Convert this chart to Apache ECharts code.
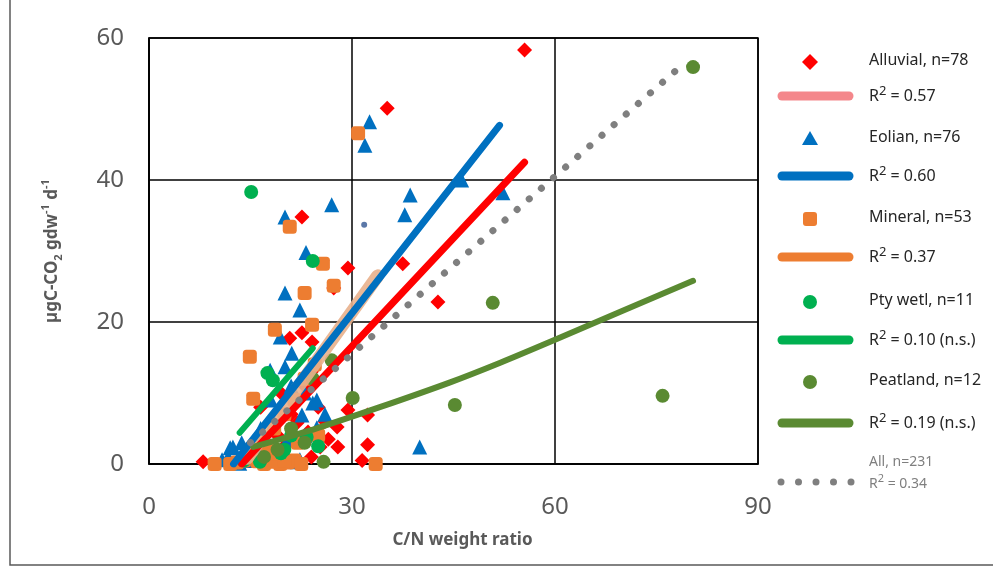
<!DOCTYPE html>
<html>
<head>
<meta charset="utf-8">
<script src="https://cdn.jsdelivr.net/npm/echarts@6/dist/echarts.min.js"></script>
<style>
  html, body { margin: 0; padding: 0; background: #fff; }
  #chart { width: 993px; height: 568px; }
</style>
</head>
<body>
<div id="chart"></div>
<script>
// axis ticks
const xTicks = [0, 30, 60, 90];
const yTicks = [0, 20, 40, 60];

// scatter points [C/N, rate]
const alluvial = [
  [55.5, 58.3], [35.2, 50.1], [37.5, 28.2], [29.4, 27.6], [42.7, 22.8], [22.6, 34.8],
  [27.3, 24.8], [20.8, 17.7], [22.6, 18.5], [24.1, 17.2], [8, 0.3], [21.9, 5.8],
  [25.3, 2.4], [27.9, 2.4], [27.8, 5.2], [29.4, 7.6], [32.3, 2.7], [31.5, 0.5],
  [32.3, 6.9], [14, 1], [15.5, 2], [16, 0.5], [17, 3], [18, 1.5], [19, 4], [20, 2.5],
  [21, 7], [22, 9], [23, 11], [24, 13], [25, 8], [26, 6], [18, 6], [16.5, 8], [19.5, 10],
  [23.5, 4.5], [26.5, 3.5], [24, 1], [20.5, 0.5], [17.5, 0.3]
];
const eolian = [
  [32.6, 48.2], [31.9, 44.9], [38.6, 37.9], [37.8, 35.1], [27, 36.5], [46.2, 40],
  [52.3, 38.2], [20.1, 34.8], [23.2, 29.8], [20.1, 24.1], [22.3, 21.7], [19.4, 17.9],
  [21.1, 15.6], [17.9, 13.2], [20.1, 13.7], [24.2, 8.6], [22.6, 6.9], [12.4, 2.4],
  [10.8, 0.6], [22.3, 0.6], [11.7, 1], [13.4, 0.1], [24.8, 9], [24.8, 5.1], [12, 2.3],
  [18.9, 2.3], [21.9, 0.3], [13.7, 3], [40, 2.4], [15, 1], [16, 2], [14.5, 0.5],
  [17, 0.8], [19, 1], [20.5, 3.5], [23, 4], [26, 7], [16.5, 5], [18, 9], [21, 11], [23, 10]
];
const mineral = [
  [30.9, 46.6], [20.8, 33.4], [25.7, 28.2], [27.3, 25.1], [23, 24.1], [24.1, 19.6],
  [18.6, 18.9], [14.9, 15.1], [15.4, 9.2], [33.5, 0], [9.7, 0], [19.4, 0], [18, 0.3],
  [20.5, 0.2], [17, 0], [21.5, 0.5], [16, 0.4], [22.5, 0], [19, 1.5], [17.5, 2],
  [14, 0.5], [13, 0.2], [16.5, 3], [18.5, 5], [20, 7], [21.5, 9], [23, 12], [24.5, 14],
  [22, 3], [25, 4], [12, 0], [15, 1.5], [20, 0.5]
];
const ptyWetl = [
  [15.1, 38.3], [24.2, 28.6], [18.3, 11.8], [17.5, 12.8], [23.3, 3.8], [16.4, 0.3],
  [19.5, 1.5], [14, 0.5], [21, 4], [25, 2.5], [20, 2]
];
const peatland = [
  [80.4, 55.9], [75.9, 9.6], [50.8, 22.7], [45.2, 8.3], [30.1, 9.3], [25.8, 0.3],
  [27, 14.6], [24.2, 12], [21, 5], [23, 3], [19, 2], [17, 1]
];
const smallDot = [[31.8, 33.7]];

// fitted lines
const fitMineral = [[14.5, 0.8], [33.8, 26.5]];
const fitAlluvial = [[13.7, 0], [55.5, 42.5]];
const fitEolian = [[12.5, 0], [51.8, 47.7]];
const fitPty = [[13.4, 4.4], [24.2, 16.3]];
const fitPeat = [[15.4, 2.4], [25, 5.1], [34.1, 8.0], [44.5, 11.5], [52, 14.3], [60, 17.5], [70, 21.6], [80.4, 25.8]];
const fitAll = [[15, 3], [79.3, 56.6]];

// legend texts
const legendNames = ["Alluvial, n=78", "Eolian, n=76", "Mineral, n=53", "Pty wetl, n=11", "Peatland, n=12", "All, n=231"];
const legendR2 = ["0.57", "0.60", "0.37", "0.10 (n.s.)", "0.19 (n.s.)", "0.34"];

const colors = {
  red: "#ff0000", blue: "#0070c0", orange: "#ed7d31", green: "#00b050",
  peat: "#5a8a32", gray: "#7f7f7f", tan: "#e8b08c", pink: "#f4878b"
};
const FONT = "Noto Sans";

const chart = echarts.init(document.getElementById("chart"));

function scatter(name, data, symbol, size, color) {
  return {
    name: name, type: "scatter", data: data, symbol: symbol, symbolSize: size,
    itemStyle: { color: color, opacity: 1 }, z: 2
  };
}
function fit(name, data, color, width, extra) {
  return Object.assign({
    name: name, type: "line", data: data, showSymbol: false, symbol: "none",
    lineStyle: { color: color, width: width, cap: "round" }, z: 3, silent: true
  }, extra || {});
}

// legend graphics
const legendMarkers = [
  { type: "polygon", shape: { points: [[0, -8], [8, 0], [0, 8], [-8, 0]] }, color: colors.red },
  { type: "polygon", shape: { points: [[0, -8], [8, 6], [-8, 6]] }, color: colors.blue },
  { type: "rect", shape: { x: -7, y: -7, width: 14, height: 14, r: 3 }, color: colors.orange },
  { type: "circle", shape: { cx: 0, cy: 0, r: 7 }, color: colors.green },
  { type: "circle", shape: { cx: 0, cy: 0, r: 7 }, color: colors.peat },
  null
];
const legendLineColors = [colors.pink, colors.blue, colors.orange, colors.green, colors.peat, colors.gray];
const rowY = [60, 137, 217, 300, 380, 462];
const r2Y = [96, 176, 257, 340, 423, 489];

const graphic = [
  { type: "rect", shape: { x: 10, y: -20, width: 1000, height: 585 },
    style: { fill: "none", stroke: "#595959", lineWidth: 1.5 }, silent: true }
];
legendNames.forEach(function (label, i) {
  const last = i === legendNames.length - 1;
  const m = legendMarkers[i];
  if (m) {
    graphic.push({ type: m.type, x: 810, y: rowY[i] + 2, shape: m.shape, style: { fill: m.color } });
  }
  graphic.push({
    type: "text", x: 869, y: rowY[i], style: {
      text: label, fill: last ? "#7f7f7f" : "#262626",
      font: (last ? "14px " : "16px ") + FONT, verticalAlign: "middle"
    }
  });
  if (last) {
    for (let k = 0; k < 5; k++) {
      graphic.push({ type: "circle", x: 781 + k * 17.5, y: r2Y[i] - 7, shape: { cx: 0, cy: 0, r: 3.5 }, style: { fill: colors.gray } });
    }
  } else {
    graphic.push({
      type: "line", shape: { x1: 782, y1: r2Y[i], x2: 849, y2: r2Y[i] },
      style: { stroke: legendLineColors[i], lineWidth: 9, lineCap: "round" }
    });
  }
  const fs = last ? 14 : 16;
  graphic.push({
    type: "text", x: 869, y: r2Y[i] - (last ? 5 : 0), style: {
      text: "{r|R}{s|2}{r| = " + legendR2[i] + "}",
      verticalAlign: "middle",
      rich: {
        r: { fontSize: fs, fontFamily: FONT, fill: last ? "#7f7f7f" : "#262626", lineHeight: 22 },
        s: { fontSize: fs - 3, fontFamily: FONT, fill: last ? "#7f7f7f" : "#262626", lineHeight: 14, verticalAlign: "top" }
      }
    }
  });
});

const option = {
  animation: false,
  backgroundColor: "#fff",
  grid: { left: 149, right: 235, top: 38, bottom: 104, show: true, borderColor: "#000", borderWidth: 1.5, backgroundColor: "transparent", z: 0 },
  xAxis: {
    type: "value", min: xTicks[0], max: xTicks[xTicks.length - 1], interval: 30,
    name: "C/N weight ratio", nameLocation: "middle", nameGap: 68,
    nameTextStyle: { fontFamily: FONT, fontSize: 17, fontWeight: "bold", color: "#595959", padding: [0, 0, 0, 18] },
    axisLine: { show: true, lineStyle: { color: "#000", width: 1.5 } },
    axisTick: { show: false },
    splitLine: { show: true, lineStyle: { color: "#000", width: 1.5 } },
    axisLabel: { fontFamily: FONT, fontSize: 24, color: "#595959", margin: 31 }
  },
  yAxis: {
    type: "value", min: yTicks[0], max: yTicks[yTicks.length - 1], interval: 20,
    name: "{t|µgC-CO}{sub|2}{t| gdw}{sup|-1}{t| d}{sup|-1}",
    nameLocation: "middle", nameGap: 85, nameRotate: 90,
    nameTextStyle: {
      rich: {
        t: { fontFamily: FONT, fontSize: 17, fontWeight: "bold", color: "#595959", lineHeight: 24 },
        sub: { fontFamily: FONT, fontSize: 11, fontWeight: "bold", color: "#595959", lineHeight: 14, verticalAlign: "bottom" },
        sup: { fontFamily: FONT, fontSize: 11, fontWeight: "bold", color: "#595959", lineHeight: 14, verticalAlign: "top" }
      }
    },
    axisLine: { show: true, lineStyle: { color: "#000", width: 1.5 } },
    axisTick: { show: false },
    splitLine: { show: true, lineStyle: { color: "#000", width: 1.5 } },
    axisLabel: { fontFamily: FONT, fontSize: 24, color: "#595959", margin: 25 }
  },
  series: [
    scatter("Alluvial", alluvial, "diamond", 15, colors.red),
    scatter("Eolian", eolian, "triangle", 15, colors.blue),
    scatter("Mineral", mineral, "roundRect", 14, colors.orange),
    scatter("Pty wetl", ptyWetl, "circle", 14, colors.green),
    scatter("Peatland", peatland, "circle", 14, colors.peat),
    scatter("other", smallDot, "circle", 6, "#5b78a8"),
    fit("fit mineral", fitMineral, colors.tan, 13, { lineStyle: { color: colors.tan, width: 13, cap: "round", opacity: 0.9 } }),
    fit("fit alluvial", fitAlluvial, colors.red, 7),
    fit("fit eolian", fitEolian, colors.blue, 7),
    fit("fit pty", fitPty, colors.green, 6),
    fit("fit peat", fitPeat, colors.peat, 6, { smooth: 0.3 }),
    fit("fit all", fitAll, colors.gray, 7, { lineStyle: { color: colors.gray, width: 7, cap: "round", type: [0.1, 16] } })
  ],
  graphic: graphic
};
chart.setOption(option);
</script>
</body>
</html>
